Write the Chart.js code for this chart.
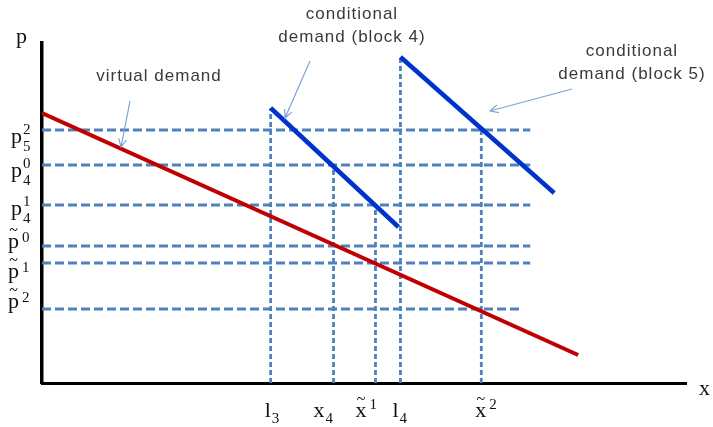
<!DOCTYPE html>
<html>
<head>
<meta charset="utf-8">
<title>Virtual and conditional demand</title>
<script src="https://cdn.jsdelivr.net/npm/chart.js@4.4.1/dist/chart.umd.min.js"></script>
<style>
    body { margin: 0; background: #ffffff; }
    #wrap { width: 713px; height: 427px; }
</style>
</head>
<body>
<div id="wrap"><canvas id="demandChart" width="713" height="427"></canvas></div>
<script>
/*
   Virtual demand vs conditional demand (blocks 4 and 5)
   units are arbitrary
*/

// demand curves (x = quantity, y = price)
const virtualX = [0, 537];
const virtualY = [270, 28];
const block4X = [229, 357];
const block4Y = [275, 156];
const block5X = [359, 513];
const block5Y = [326, 190];

// price levels on the vertical axis
const priceNames = ["p5^2", "p4^0", "p4^1", "~p^0", "~p^1", "~p^2"];
const priceLevels = [253, 218, 178, 137, 120, 74];
const priceLineEnds = [489, 489, 489, 489, 489, 481];

// quantity levels on the horizontal axis
const quantityNames = ["l3", "x4", "~x^1", "l4", "~x^2"];
const quantityLevels = [229, 292, 334, 359, 440];
const quantityLineTops = [275, 218, 178, 326, 253];

const xMax = 645;
const yMax = 340;

function toPoints(xs, ys) {
    return xs.map((x, i) => ({ x: x, y: ys[i] }));
}

// parse "p5^2" / "~p^0" style names
function parseName(name) {
    let tilde = false;
    if (name[0] === "~") {
        tilde = true;
        name = name.slice(1);
    }
    let sup = "";
    const caret = name.indexOf("^");
    if (caret >= 0) {
        sup = name.slice(caret + 1);
        name = name.slice(0, caret);
    }
    return { base: name[0], sub: name.slice(1), sup: sup, tilde: tilde };
}

const datasets = [];

datasets.push({
    label: "virtual demand",
    data: toPoints(virtualX, virtualY),
    borderColor: "#C00000",
    borderWidth: 4,
    order: 1
});

datasets.push({
    label: "conditional demand (block 4)",
    data: toPoints(block4X, block4Y),
    borderColor: "#0033CC",
    borderWidth: 4.5,
    order: 1
});

datasets.push({
    label: "conditional demand (block 5)",
    data: toPoints(block5X, block5Y),
    borderColor: "#0033CC",
    borderWidth: 4.5,
    order: 1
});

priceLevels.forEach((p, i) => {
    datasets.push({
        label: priceNames[i],
        data: [{ x: 0, y: p }, { x: priceLineEnds[i], y: p }],
        borderColor: "#4F81BD",
        borderWidth: 2.8,
        borderDash: [9, 4],
        order: 2
    });
});

quantityLevels.forEach((q, i) => {
    datasets.push({
        label: quantityNames[i],
        data: [{ x: q, y: 0 }, { x: q, y: quantityLineTops[i] }],
        borderColor: "#4F81BD",
        borderWidth: 2.8,
        borderDash: [5, 3],
        order: 2
    });
});

function drawSymbol(ctx, x, y, name, opt) {
    const s = parseName(name);
    ctx.fillStyle = "#111111";
    ctx.textBaseline = "alphabetic";
    ctx.textAlign = "left";
    ctx.font = "22px 'Liberation Serif'";
    ctx.fillText(s.base, x, y);
    const w = ctx.measureText(s.base).width;
    if (s.tilde) {
        ctx.font = "16px 'Liberation Serif'";
        const tw = ctx.measureText("~").width;
        ctx.fillText("~", x + w / 2 - tw / 2, y - 13);
    }
    ctx.font = "15px 'Liberation Serif'";
    if (s.sup) {
        ctx.fillText(s.sup, x + w + (s.tilde ? 3 : 1), y + (opt.supDy || -9));
    }
    if (s.sub) {
        ctx.fillText(s.sub, x + w + 1, y + (opt.subDy || 8));
    }
}

function drawArrow(ctx, x1, y1, x2, y2) {
    const a = Math.atan2(y2 - y1, x2 - x1);
    const h = 9;
    ctx.save();
    ctx.strokeStyle = "#7AA3D8";
    ctx.lineWidth = 1.2;
    ctx.beginPath();
    ctx.moveTo(x1, y1);
    ctx.lineTo(x2, y2);
    ctx.moveTo(x2 - h * Math.cos(a - 0.45), y2 - h * Math.sin(a - 0.45));
    ctx.lineTo(x2, y2);
    ctx.lineTo(x2 - h * Math.cos(a + 0.45), y2 - h * Math.sin(a + 0.45));
    ctx.stroke();
    ctx.restore();
}

function drawNote(ctx, lines, cx, y) {
    ctx.save();
    ctx.fillStyle = "#3A3A3A";
    ctx.font = "17px Arial, 'Liberation Sans'";
    ctx.textAlign = "center";
    ctx.textBaseline = "alphabetic";
    if ("letterSpacing" in ctx) {
        ctx.letterSpacing = "1px";
    }
    lines.forEach((t, i) => ctx.fillText(t, cx, y + i * 23));
    ctx.restore();
}

const labelPlugin = {
    id: "labelPlugin",
    afterDatasetsDraw(chart) {
        const ctx = chart.ctx;
        const sx = chart.scales.x;
        const sy = chart.scales.y;
        const area = chart.chartArea;

        ctx.save();

        // axis names
        ctx.fillStyle = "#111111";
        ctx.font = "22px 'Liberation Serif'";
        ctx.fillText("p", 16, 43);
        ctx.fillText("x", 699, 395);

        // price labels on the left
        const priceShift = [13, 12, 10, 2, 15, -1];
        priceNames.forEach((n, i) => {
            const y = sy.getPixelForValue(priceLevels[i]) + priceShift[i];
            const tilde = n[0] === "~";
            drawSymbol(ctx, tilde ? 8 : 11, y, n, tilde ? { supDy: -6 } : {});
        });

        // quantity labels under the axis
        const quantityShift = [-6, -20, -20, -8, -6];
        quantityNames.forEach((n, i) => {
            const x = sx.getPixelForValue(quantityLevels[i]) + quantityShift[i];
            drawSymbol(ctx, x, area.bottom + 34, n, { supDy: -8, subDy: 6 });
        });

        ctx.restore();

        // notes and arrows
        drawNote(ctx, ["virtual demand"], 159, 81);
        drawArrow(ctx, 130, 101, 121, 147);

        drawNote(ctx, ["conditional", "demand (block 4)"], 352, 19);
        drawArrow(ctx, 310, 61, 285, 118);

        drawNote(ctx, ["conditional", "demand (block 5)"], 632, 56);
        drawArrow(ctx, 572, 89, 490, 111);
    }
};

new Chart(document.getElementById("demandChart"), {
    type: "scatter",
    data: { datasets: datasets },
    options: {
        responsive: false,
        animation: false,
        showLine: true,
        layout: {
            padding: { left: 34, right: 27, top: 43, bottom: 36 }
        },
        elements: {
            point: { radius: 0, hoverRadius: 0 },
            line: { tension: 0, fill: false, borderCapStyle: "butt" }
        },
        plugins: {
            legend: { display: false },
            tooltip: { enabled: false }
        },
        scales: {
            x: {
                type: "linear",
                min: 0,
                max: xMax,
                grid: { display: false },
                ticks: { display: false },
                border: { display: true, color: "#000000", width: 3 }
            },
            y: {
                type: "linear",
                min: 0,
                max: yMax,
                grid: { display: false },
                ticks: { display: false },
                border: { display: true, color: "#000000", width: 3.5 }
            }
        }
    },
    plugins: [labelPlugin]
});
</script>
</body>
</html>
